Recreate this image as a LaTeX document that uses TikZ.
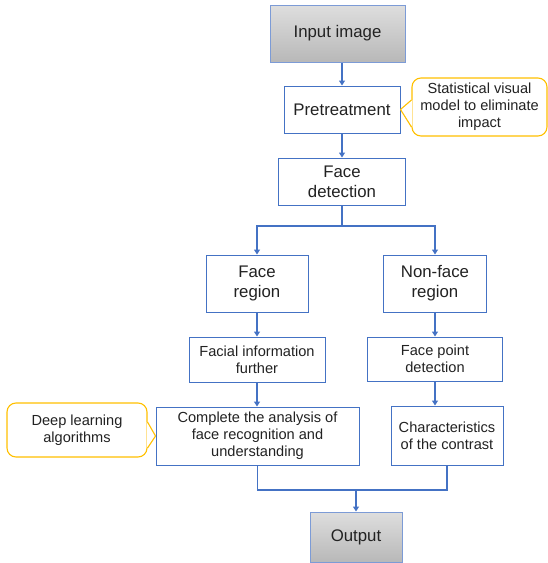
\documentclass[tikz,border=0pt]{standalone}
\usepackage{fontspec}
\setmainfont{Liberation Sans}
\usetikzlibrary{arrows.meta,calc}
\definecolor{edgeblue}{HTML}{4472C4}
\definecolor{softblue}{HTML}{7C9BD6}
\definecolor{noteyellow}{HTML}{FFC000}
\definecolor{shadetop}{HTML}{DEDEDE}
\definecolor{shadebot}{HTML}{B8B8B8}
\definecolor{inkgrey}{HTML}{222222}

\tikzset{
  box/.style={draw=edgeblue, line width=1pt, fill=white, align=center,
    inner sep=0pt, text=inkgrey},
  bigtxt/.style={font=\fontsize{16.8}{20}\selectfont},
  smalltxt/.style={font=\fontsize{14.6}{17}\selectfont},
  greybox/.style={box, draw=softblue, top color=shadetop, bottom color=shadebot},
  link/.style={draw=edgeblue, line width=1.1pt, -{Triangle[width=6pt,length=5pt]}},
  plain/.style={draw=edgeblue, line width=1.1pt},
  notebox/.style={draw=noteyellow, line width=1.1pt, fill=white, rounded corners=9pt,
    align=center, inner sep=0pt, text=inkgrey, font=\fontsize{14.6}{17}\selectfont},
  noteside/.style={draw=noteyellow, line width=1.1pt, line join=round}
}

\begin{document}
\begin{tikzpicture}[x=1pt, y=-1pt]
  \useasboundingbox (0,0) rectangle (548,563);

  % main column
  \node[greybox, bigtxt, minimum width=135pt, minimum height=57pt] (inp) at (337.5,33.5) {Input image};
  \node[box, bigtxt, minimum width=116pt, minimum height=47pt] (pre) at (342,109.5) {Pretreatment};
  \node[box, bigtxt, minimum width=127pt, minimum height=47pt] (det) at (342,181.5) {Face\\detection};

  % two branches
  \node[box, bigtxt, minimum width=102pt, minimum height=57pt] (fr) at (257,283.5) {Face\\region};
  \node[box, bigtxt, minimum width=103pt, minimum height=57pt] (nfr) at (435,283.5) {Non-face\\region};
  \node[box, smalltxt, minimum width=136pt, minimum height=45pt] (fif) at (257,359.5) {Facial information\\further};
  \node[box, smalltxt, minimum width=135pt, minimum height=44pt] (fpd) at (435,359) {Face point\\detection};
  \node[box, smalltxt, minimum width=203pt, minimum height=58pt] (cmp) at (257.5,436) {Complete the analysis of\\face recognition and\\understanding};
  \node[box, smalltxt, minimum width=112pt, minimum height=59pt] (chr) at (447,435.5) {Characteristics\\of the contrast};

  \node[greybox, bigtxt, minimum width=92pt, minimum height=50pt] (out) at (356,537) {Output};

  % notes
  \node[notebox, minimum width=135pt, minimum height=58pt] (n1) at (479.5,107) {Statistical visual\\model to eliminate\\impact};
  \fill[white] ($(n1.west)+(0.9,-7)$) -- (pre.east) -- ($(n1.west)+(0.9,20)$) -- cycle;
  \draw[noteside] ($(n1.west)+(0,-7)$) -- (pre.east) -- ($(n1.west)+(0,20)$);

  \node[notebox, minimum width=140pt, minimum height=54pt] (n2) at (77,430) {Deep learning\\algorithms};
  \fill[white] ($(n2.east)+(-0.9,-8)$) -- (cmp.west) -- ($(n2.east)+(-0.9,18)$) -- cycle;
  \draw[noteside] ($(n2.east)+(0,-8)$) -- (cmp.west) -- ($(n2.east)+(0,18)$);

  % connectors
  \coordinate (spl) at (342,226);
  \coordinate (mrg) at (356,490);
  \draw[link] (pre.north |- inp.south) -- (pre.north);
  \draw[link] (pre.south) -- (det.north);
  \draw[link] (det.south) -- (det.south |- spl) -| (fr.north);
  \draw[link] (det.south |- spl) -| (nfr.north);
  \draw[link] (fr.south) -- (fif.north);
  \draw[link] (nfr.south) -- (fpd.north);
  \draw[link] (fif.south) -- (fif.south |- cmp.north);
  \draw[link] (fpd.south) -- (fpd.south |- chr.north);
  \draw[plain] (cmp.south) -- (cmp.south |- mrg) -- (chr.south |- mrg) -- (chr.south);
  \draw[link] (out.north |- mrg) -- (out.north);
\end{tikzpicture}
\end{document}
